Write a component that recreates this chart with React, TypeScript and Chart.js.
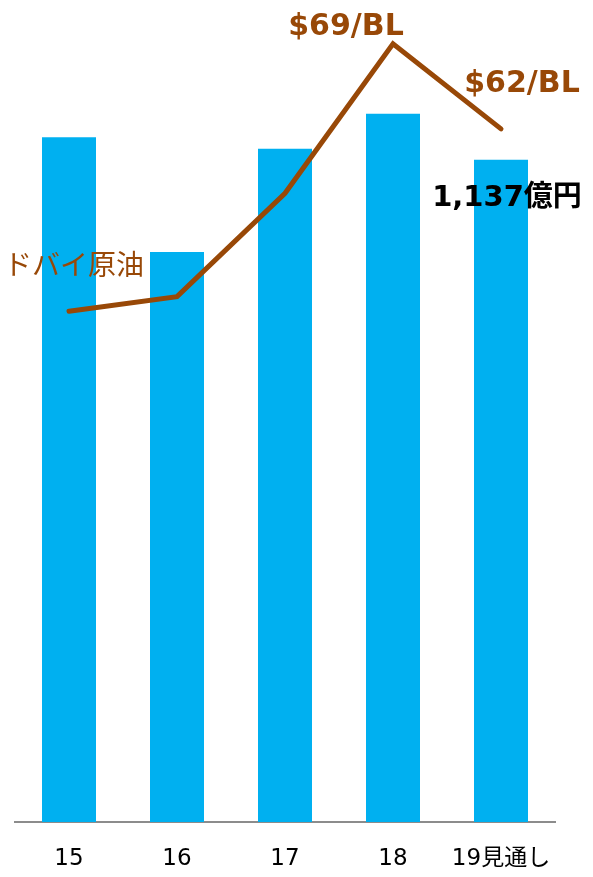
import React, { useEffect, useRef } from "react";
import { Chart, registerables } from "chart.js";

Chart.register(...registerables);

const categories = ["15", "16", "17", "18", "19見通し"];
const profitValues = [1176, 979, 1156, 1216, 1137]; // 億円
const oilPrices = [47.0, 48.2, 56.7, 69, 62]; // $/BL

const BAR_COLOR = "#00B0F0";
const BROWN = "#984807";
const FONT = "'DejaVu Sans', 'Noto Sans CJK JP', sans-serif";

const labelPlugin = {
  id: "labels",
  afterDatasetsDraw(chart: any) {
    const ctx = chart.ctx;
    const lineMeta = chart.getDatasetMeta(1);
    const barMeta = chart.getDatasetMeta(0);
    const p18 = lineMeta.data[3];
    const p19 = lineMeta.data[4];
    const p15 = lineMeta.data[0];
    const b19 = barMeta.data[4];
    ctx.save();
    ctx.textAlign = "center";
    ctx.textBaseline = "middle";
    ctx.fillStyle = BROWN;
    ctx.font = `bold 30px ${FONT}`;
    ctx.fillText("$69/BL", p18.x - 47, p18.y - 17);
    ctx.fillText("$62/BL", p19.x + 21, p19.y - 45);
    ctx.font = `28px ${FONT}`;
    ctx.fillText("ドバイ原油", p15.x + 5, p15.y - 44);
    ctx.fillStyle = "#000000";
    ctx.font = `bold 29px ${FONT}`;
    ctx.fillText("1,137億円", b19.x + 6, b19.y + 39);
    ctx.restore();
  },
};

export default function App() {
  const ref = useRef<HTMLCanvasElement | null>(null);
  useEffect(() => {
    if (!ref.current) return;
    const chart = new Chart(ref.current, {
      type: "bar",
      data: {
        labels: categories,
        datasets: [
          {
            type: "bar",
            data: profitValues,
            backgroundColor: BAR_COLOR,
            barPercentage: 0.5,
            categoryPercentage: 1,
            yAxisID: "y",
            order: 1,
          },
          {
            type: "line",
            data: oilPrices,
            borderColor: BROWN,
            borderWidth: 5,
            borderCapStyle: "round",
            borderJoinStyle: "miter",
            pointRadius: 0,
            tension: 0,
            fill: false,
            yAxisID: "y2",
            order: 0,
          } as any,
        ],
      },
      options: {
        animation: false,
        responsive: false,
        maintainAspectRatio: false,
        layout: { padding: { left: 15, right: 38, top: 30, bottom: 0 } },
        plugins: { legend: { display: false }, tooltip: { enabled: false } },
        scales: {
          x: {
            grid: { display: false, drawTicks: false },
            border: { display: true, color: "#8c8c8c", width: 2 },
            ticks: {
              color: "#000000",
              font: { size: 23, family: FONT },
              padding: 23,
              maxRotation: 0,
            },
            afterFit: (scale: any) => {
              scale.height = 55;
            },
          },
          y: { display: false, min: 0, max: 1360 },
          y2: { display: false, min: 5, max: 70.13 },
        },
      },
      plugins: [labelPlugin],
    });
    return () => chart.destroy();
  }, []);
  return (
    <div style={{ position: "fixed", left: 0, top: 0, width: 593, height: 877, background: "#fff" }}>
      <canvas ref={ref} width={593} height={877} style={{ width: 593, height: 877 }} />
    </div>
  );
}
